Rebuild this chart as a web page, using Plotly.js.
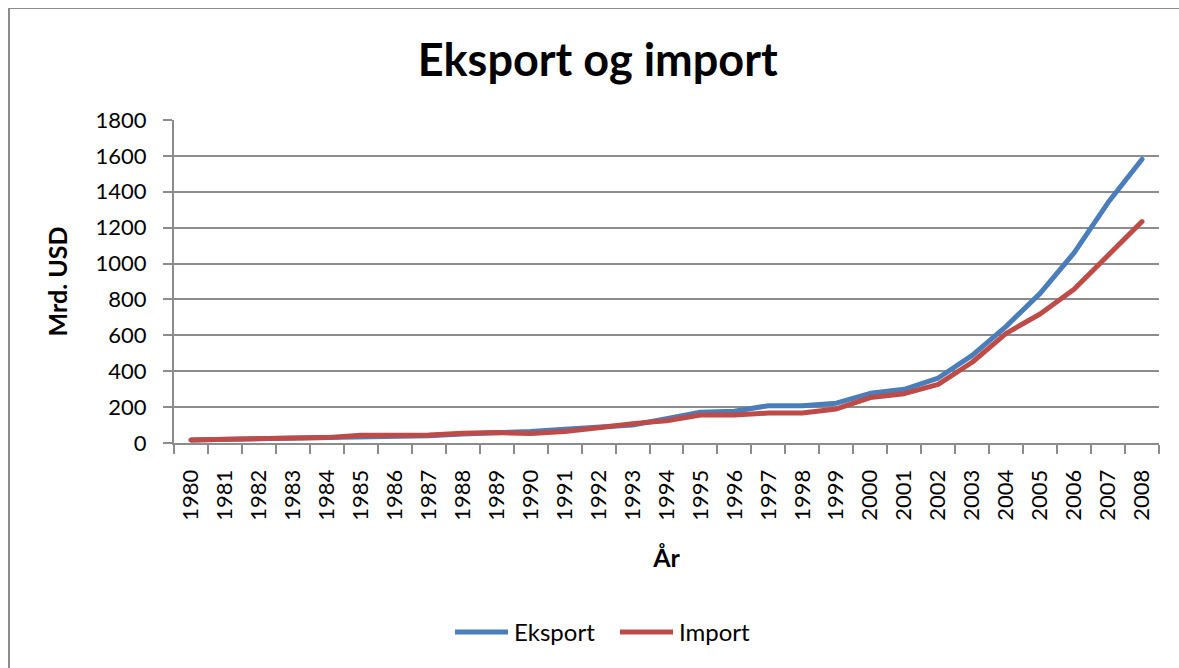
<!DOCTYPE html>
<html>
<head>
<meta charset="utf-8">
<script src="https://cdn.plot.ly/plotly-3.0.1.min.js"></script>
<style>
  html, body { margin: 0; padding: 0; background: #fff; overflow: hidden; }
  #frame { position: absolute; left: 8px; top: 8px; width: 1300px; height: 800px; border-left: 2px solid #8c8c8c; border-top: 1px solid #8c8c8c; }
  #chart { position: absolute; left: 0; top: 0; width: 1179px; height: 668px; }
  #chart path.js-line { stroke-linejoin: round; stroke-linecap: round; }
</style>
</head>
<body>
<div id="frame"></div>
<div id="chart"></div>
<script>
const years = ["1980","1981","1982","1983","1984","1985","1986","1987","1988","1989","1990","1991","1992","1993","1994","1995","1996","1997","1998","1999","2000","2001","2002","2003","2004","2005","2006","2007","2008"];
const eksport = [17, 20, 20, 22, 27, 30, 33, 40, 50, 55, 64, 76, 90, 100, 135, 172, 177, 208, 208, 222, 277, 299, 362, 488, 650, 834, 1060, 1340, 1581];
const importVals = [17, 20, 20, 22, 30, 43, 43, 45, 55, 58, 53, 64, 85, 108, 124, 156, 156, 167, 167, 190, 253, 275, 327, 450, 611, 719, 857, 1045, 1234];
const yTicks = [0, 200, 400, 600, 800, 1000, 1200, 1400, 1600, 1800];
const seriesNames = ["Eksport", "Import"];
const seriesColors = ["#4a7ebb", "#be4b48"];

const font = "Lato, 'Open Sans', sans-serif";

const traces = [
  { x: years, y: eksport, name: seriesNames[0], type: "scatter", mode: "lines",
    line: { color: seriesColors[0], width: 5 }, showlegend: false },
  { x: years, y: importVals, name: seriesNames[1], type: "scatter", mode: "lines",
    line: { color: seriesColors[1], width: 5 }, showlegend: false }
];

// custom legend (Excel-style long line samples)
const legY = -0.585;
const legX = [[0.2853, 0.3391, 0.3431], [0.4528, 0.5066, 0.5107]];
const shapes = legX.map((p, i) => ({
  type: "line", xref: "paper", yref: "paper", x0: p[0], x1: p[1], y0: legY, y1: legY,
  line: { color: seriesColors[i], width: 5 }
}));
const annotations = legX.map((p, i) => ({
  xref: "paper", yref: "paper", x: p[2], y: legY, xanchor: "left", yanchor: "middle",
  text: seriesNames[i], showarrow: false, font: { size: 24, family: font, color: "#000" }
}));

const layout = {
  width: 1179, height: 668,
  paper_bgcolor: "rgba(0,0,0,0)", plot_bgcolor: "rgba(0,0,0,0)",
  margin: { l: 174, r: 20, t: 120, b: 225 },
  font: { family: font, color: "#000", size: 22 },
  showlegend: false,
  title: { text: "<b>Eksport og import</b>", font: { family: font, size: 45, color: "#000" },
           x: 0.507, xanchor: "center", y: 0.91, yanchor: "middle" },
  xaxis: {
    type: "category", range: [-0.5, 28.5],
    tickson: "boundaries", ticks: "outside", ticklen: 9, tickcolor: "#8c8c8c", tickwidth: 2,
    tickangle: -90, tickfont: { size: 22, family: font },
    ticklabelstandoff: 16,
    showline: true, linecolor: "#8c8c8c", linewidth: 2,
    showgrid: false, zeroline: false,
    title: { text: "<b>År</b>", font: { size: 25, family: font }, standoff: 30 }
  },
  yaxis: {
    range: [0, 1800], tickvals: yTicks, ticktext: yTicks.map(String),
    ticks: "outside", ticklen: 9, tickcolor: "#8c8c8c", tickwidth: 2,
    tickfont: { size: 22, family: font },
    ticklabelstandoff: 12,
    showline: true, linecolor: "#8c8c8c", linewidth: 2,
    showgrid: true, gridcolor: "#8c8c8c", gridwidth: 2, zeroline: false,
    title: { text: "<b>Mrd. USD</b>", font: { size: 25, family: font }, standoff: 21 }
  },
  shapes: shapes,
  annotations: annotations
};

Plotly.newPlot("chart", traces, layout, { displayModeBar: false, staticPlot: true });
</script>
</body>
</html>
